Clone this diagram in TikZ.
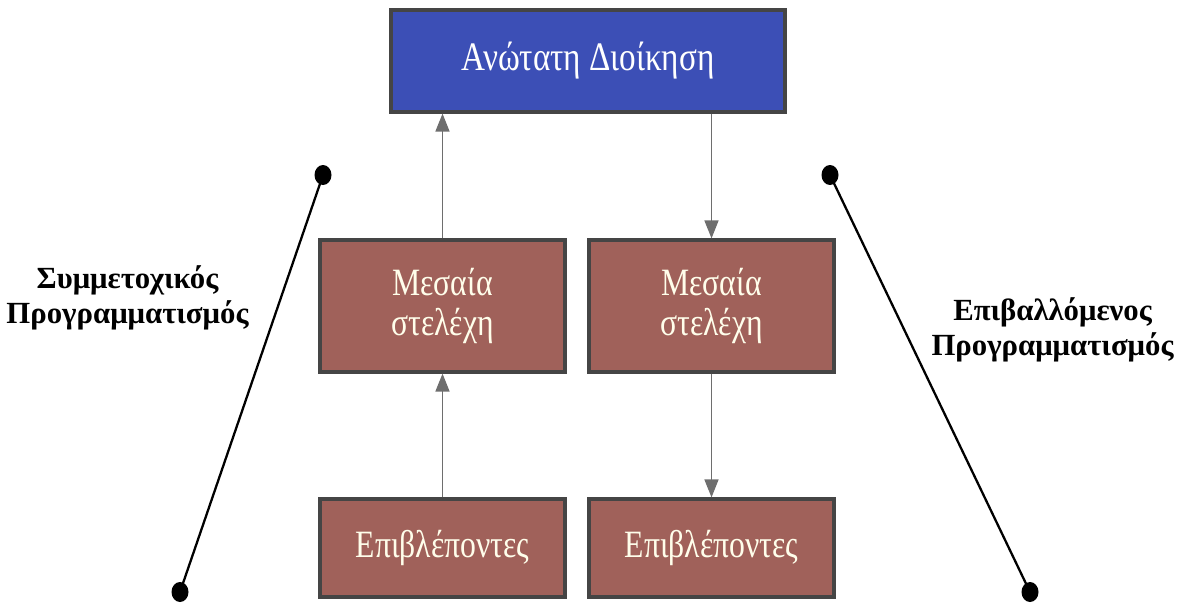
\documentclass[tikz,border=0pt]{standalone}
\usepackage{fontspec}
\setmainfont{Liberation Serif}
\newfontfamily\boxfont[FakeStretch=0.82]{Liberation Serif}
\definecolor{topblue}{HTML}{3C4FB6}
\definecolor{midbrown}{HTML}{A0615A}
\definecolor{frame}{HTML}{454545}
\definecolor{argray}{HTML}{6E6E6E}
\usetikzlibrary{arrows.meta,positioning,calc,shapes.geometric}

\begin{document}
\begin{tikzpicture}[
    hd/.style={draw=frame,fill=topblue,line width=1.8pt,
      minimum width=7.88cm,minimum height=2.04cm,
      align=center,text=white,font=\boxfont\fontsize{23}{24}\selectfont},
    br/.style={draw=frame,fill=midbrown,line width=1.8pt,
      minimum width=4.9cm,minimum height=2.64cm,
      align=center,text=white!92!yellow,font=\boxfont\fontsize{22}{23}\selectfont},
    bl/.style={br,minimum height=1.96cm},
    ar/.style={-{Triangle[length=0.36cm,width=0.28cm]},argray,line width=0.9pt},
    dt/.style={ellipse,fill=black,inner sep=0pt,minimum width=0.34cm,minimum height=0.4cm},
    ln/.style={black,line width=1.3pt},
    lb/.style={align=center,font=\bfseries\fontsize{17.5}{20}\selectfont},
  ]
    \useasboundingbox (0,0) rectangle (23.62,-12.24);
    % boxes
    \node[hd](top) at (11.76,-1.22) {Ανώτατη Διοίκηση};
    \node[br](m1) at (8.85,-6.12) {Μεσαία\\στελέχη};
    \node[br](m2) at (14.23,-6.12) {Μεσαία\\στελέχη};
    \node[bl](e1) at (8.85,-10.96) {Επιβλέποντες};
    \node[bl](e2) at (14.23,-10.96) {Επιβλέποντες};
    % arrows
    \draw[ar](m1.north)--(m1.north |- top.south);
    \draw[ar](e1.north)--(m1.south);
    \draw[ar](m2.north |- top.south)--(m2.north);
    \draw[ar](m2.south)--(e2.north);
    % side lines
    \node[dt](d1) at (6.46,-3.5) {};
    \node[dt](d2) at (3.6,-11.84) {};
    \node[dt](d3) at (16.6,-3.5) {};
    \node[dt](d4) at (20.6,-11.84) {};
    \draw[ln](d1.center)--(d2.center);
    \draw[ln](d3.center)--(d4.center);
    \node[lb](sp) at (2.55,-5.95) {Συμμετοχικός\\Προγραμματισμός};
    \node[lb](ep) at (21.05,-6.6) {Επιβαλλόμενος\\Προγραμματισμός};
  \end{tikzpicture}
\end{document}
